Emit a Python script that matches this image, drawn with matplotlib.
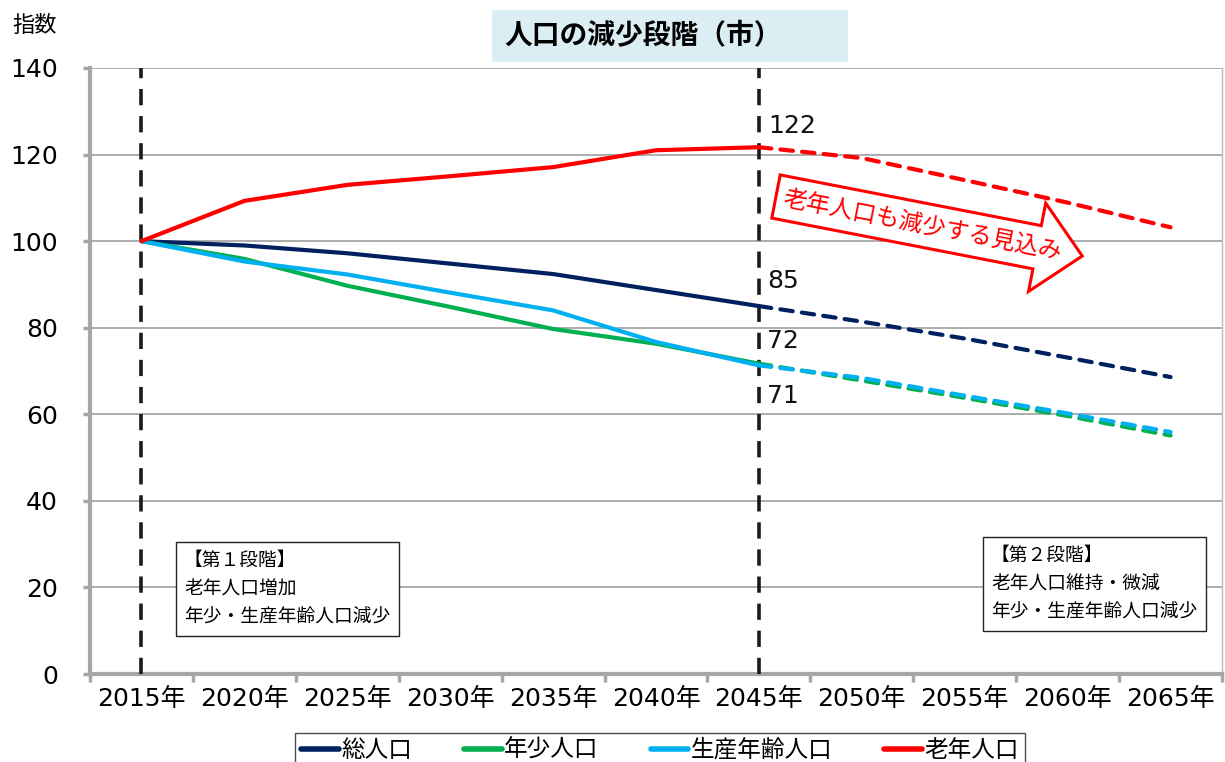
import matplotlib
matplotlib.use("Agg")
import matplotlib.pyplot as plt
import matplotlib.patches as mpatches
import matplotlib.transforms as mtransforms
import numpy as np

plt.rcParams['font.family'] = ['Noto Sans CJK JP', 'DejaVu Sans']
NUM_FONT = ['DejaVu Sans', 'Noto Sans CJK JP']

# ---------------------------------------------------------------------------
#  Data (index: 2015 = 100)
# ---------------------------------------------------------------------------
YEARS = ["2015年", "2020年", "2025年", "2030年", "2035年", "2040年",
         "2045年", "2050年", "2055年", "2060年", "2065年"]
TOTAL   = [100, 99.0, 97.2, 94.8, 92.4, 88.7, 85.0, 81.4, 77.5, 73.1, 68.6]
YOUNG   = [100, 95.9, 89.7, 84.8, 79.7, 76.3, 71.7, 67.8, 63.8, 59.6, 55.1]
WORKING = [100, 95.3, 92.3, 88.1, 84.0, 76.7, 71.3, 68.4, 64.3, 60.2, 55.9]
ELDERLY = [100, 109.3, 113.0, 115.0, 117.1, 121.0, 121.7, 119.2, 114.1, 108.9, 103.2]

SERIES = [
    ("総人口",       TOTAL,   "#002060"),
    ("年少人口",     YOUNG,   "#00B050"),
    ("生産年齢人口", WORKING, "#00B0F0"),
    ("老年人口",     ELDERLY, "#FF0000"),
]
SPLIT = 6          # 2045: actual/estimate boundary
STAGE_LINES = [0, 6]
LABELS_2045 = [("122", ELDERLY, 7, 15), ("85", TOTAL, 6, 18),
               ("72", YOUNG, 6, 16), ("71", WORKING, 6, -22)]

W, H = 1225, 762
fig = plt.figure(figsize=(W / 100, H / 100), dpi=100)
ax = fig.add_axes([90 / W, 1 - 674 / H, 1132 / W, 606 / H])

x = np.arange(len(YEARS))
for name, vals, col in SERIES:
    ax.plot(x[:SPLIT + 1], vals[:SPLIT + 1], color=col, lw=3, solid_capstyle="round",
            zorder=4)
    ax.plot(x[SPLIT:], vals[SPLIT:], color=col, lw=3, dashes=(3, 2.2),
            dash_capstyle="round", zorder=4)

for xv in STAGE_LINES:
    ax.axvline(xv, color="#1a1a1a", lw=2.6, dashes=(4.5, 3), zorder=3)

for txt, vals, dx, dy in LABELS_2045:
    ax.annotate(txt, (SPLIT, vals[SPLIT]), xytext=(dx, dy), textcoords="offset points",
                fontsize=18, va="center", ha="left", color="#111111", family=NUM_FONT)

ax.set_xlim(-0.5, len(YEARS) - 0.5)
ax.set_ylim(0, 140)
ax.set_yticks(range(0, 141, 20))
ax.grid(True, axis="y", color="#A6A6A6", lw=1.3)
ax.set_axisbelow(True)

ax.set_xticks(np.arange(-0.5, len(YEARS), 1))
ax.set_xticklabels([])
ax.set_xticks(x, minor=True)
ax.set_xticklabels(YEARS, minor=True, fontsize=18, family=NUM_FONT)
for lab in ax.get_yticklabels():
    lab.set_family(NUM_FONT)
ax.tick_params(axis="x", which="major", length=6, width=2.5, color="#A6A6A6")
ax.tick_params(axis="x", which="minor", length=0, pad=9)
ax.tick_params(axis="y", length=5, width=2.5, color="#A6A6A6", labelsize=18, pad=18)

for s in ["left", "bottom"]:
    ax.spines[s].set_color("#A6A6A6")
    ax.spines[s].set_linewidth(3)
ax.spines["top"].set_visible(False)
ax.spines["right"].set_color("#BBBBBB")
ax.spines["right"].set_linewidth(1)

# title & y label
fig.text(12 / W, 1 - 25 / H, "指数", fontsize=16, va="center", ha="left")
fig.patches.append(mpatches.Rectangle((492 / W, 1 - 62 / H), 356 / W, 52 / H,
                                      transform=fig.transFigure, facecolor="#DAEEF3",
                                      edgecolor="none"))
fig.text(643 / W, 1 - 36 / H, "人口の減少段階（市）", fontsize=20, fontweight="bold",
         va="center", ha="center")

# stage boxes
box = dict(boxstyle="square,pad=0.45", facecolor="white", edgecolor="#222222", lw=1)
fig.text(184 / W, 1 - 589 / H, "【第１段階】\n老年人口増加\n年少・生産年齢人口減少",
         fontsize=13.5, va="center", ha="left", linespacing=1.45, bbox=box)
fig.text(991 / W, 1 - 584 / H, "【第２段階】\n老年人口維持・微減\n年少・生産年齢人口減少",
         fontsize=13.5, va="center", ha="left", linespacing=1.45, bbox=box)

# outlined arrow "elderly also declining"
L, bw, hw, hl = 312, 44, 90, 46
pts = np.array([[0, bw / 2], [L - hl, bw / 2], [L - hl, hw / 2], [L, 0],
                [L - hl, -hw / 2], [L - hl, -bw / 2], [0, -bw / 2]])
ang = -11
tr = mtransforms.Affine2D().rotate_deg(ang).translate(776, H - 196.5)
arrow = mpatches.Polygon(pts, closed=True, facecolor="white", edgecolor="#FF0000",
                         lw=2.2, transform=tr, zorder=6)
fig.patches.append(arrow)
fig.text(922 / W, 1 - 226 / H, "老年人口も減少する見込み", color="#FF0000", fontsize=17,
         rotation=ang, rotation_mode="anchor", va="center", ha="center", zorder=7)

# legend
handles = [plt.Line2D([], [], color=c, lw=4, solid_capstyle="round") for _, _, c in SERIES]
fig.legend(handles, [n for n, _, _ in SERIES], loc="upper center",
           bbox_to_anchor=(660 / W, 1 - 733 / H), ncol=4, fontsize=17, frameon=True,
           fancybox=False, edgecolor="#222222", handlelength=1.6, handletextpad=0.1,
           columnspacing=2.2, borderpad=0.25, borderaxespad=0)

fig.savefig("out.png", dpi=100)
